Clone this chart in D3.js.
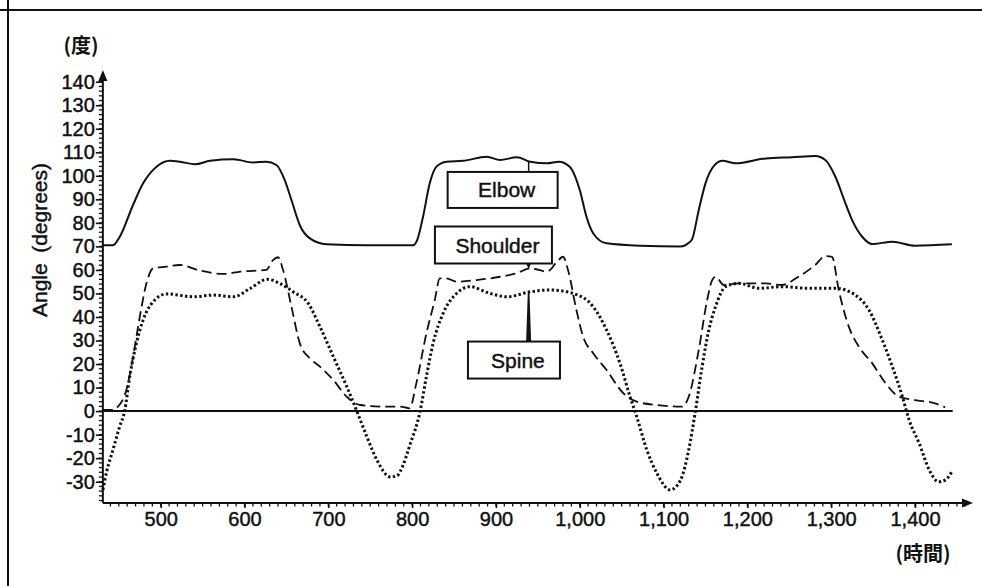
<!DOCTYPE html>
<html>
<head>
<meta charset="utf-8">
<script src="https://cdn.jsdelivr.net/npm/d3@7"></script>
<style>
  body { margin: 0; background: #fff; }
  svg { display: block; }
  text { font-family: "Liberation Sans", Arial, sans-serif; fill: #111; stroke: #111; stroke-width: 0.45px; }
</style>
</head>
<body>
<div id="chart"></div>
<script>
// Elbow (solid)
var elbowTime = [431, 443, 451, 467, 479, 495, 511, 523, 541, 559, 587, 610, 626, 638, 648, 656, 666, 678, 698, 746, 786, 801, 806, 813, 821, 829, 841, 861, 889, 905, 925, 941, 961, 975, 988, 1000, 1008, 1016, 1032, 1072, 1120, 1128, 1134, 1142, 1150, 1158, 1170, 1186, 1222, 1253, 1281, 1293, 1305, 1317, 1325, 1337, 1349, 1373, 1400, 1444]
var elbowAngle = [70.5, 70.5, 74, 87.6, 96.8, 103.9, 106.4, 106, 104.9, 106.4, 107, 105.7, 106, 104.6, 98.2, 89.7, 79, 73.4, 70.9, 70.5, 70.5, 70.5, 72.7, 82.6, 96.8, 103.9, 106, 106.4, 108.1, 106.7, 107.9, 106, 105.3, 106, 103.9, 94, 82.6, 75.6, 71.3, 70.3, 70, 71, 73, 85.5, 96.8, 103.2, 106.4, 105.3, 107.4, 107.9, 108.4, 106.7, 99.6, 88.3, 81.2, 74.1, 71, 72, 70.3, 70.9]

// Shoulder (dashed)
var shoulderTime = [431, 443, 449, 459, 467, 475, 483, 491, 507, 523, 547, 575, 595, 626, 634, 640, 646, 656, 666, 678, 690, 706, 722, 738, 766, 786, 797, 805, 817, 827, 833, 841, 853, 877, 905, 925, 941, 961, 973, 980, 986, 996, 1004, 1016, 1032, 1052, 1068, 1092, 1122, 1130, 1142, 1152, 1158, 1162, 1172, 1190, 1222, 1241, 1261, 1281, 1293, 1301, 1309, 1321, 1333, 1349, 1365, 1381, 1400, 1424, 1436]
var shoulderAngle = [0.5, 0.5, 1.9, 9, 23, 40, 54.3, 60.7, 61.4, 62.1, 59.7, 58.3, 59.3, 60, 64.2, 65.4, 60, 44.4, 28.8, 22.4, 18.9, 13.2, 6.1, 2.6, 1.9, 1.9, 1.2, 11.8, 33, 47.2, 56.4, 56.4, 55, 55.7, 57.1, 58.6, 60.7, 59.3, 63.5, 65.6, 60, 43, 31.6, 24.6, 17.5, 7.6, 4, 2.6, 1.9, 6.1, 26, 47.2, 55.7, 57.1, 53.6, 54.3, 54.3, 53.6, 57.1, 62.1, 65.9, 65.6, 51.5, 35.9, 27.4, 20.3, 11.8, 6.1, 4.7, 3.3, 1.6]

// Spine (dotted)
var spineTime = [431, 436, 443, 451, 457, 463, 471, 479, 491, 507, 539, 563, 587, 607, 627, 642, 658, 676, 690, 706, 722, 734, 746, 758, 774, 782, 786, 798, 809, 817, 825, 837, 853, 869, 893, 913, 941, 965, 992, 1016, 1032, 1048, 1060, 1068, 1080, 1092, 1108, 1120, 1130, 1138, 1146, 1154, 1162, 1174, 1190, 1214, 1241, 1273, 1305, 1329, 1345, 1361, 1373, 1385, 1393, 1405, 1417, 1428, 1436, 1444]
var spineAngle = [-33.5, -25, -16.5, -6.6, 0, 14.6, 28.8, 38.7, 46.5, 49.8, 48.6, 49.3, 48.6, 52.2, 56, 54.3, 50.7, 45.8, 35.9, 23.1, 10.4, 0, -10.9, -20.8, -28, -27.5, -25.5, -13.7, -0.9, 14.6, 28.8, 41.6, 50, 52.9, 50, 48.6, 50.7, 51.5, 50, 44.4, 34.5, 20.3, 6.1, -2.4, -16.5, -26.4, -33.5, -29.5, -16.5, 0, 18.9, 34.5, 44.4, 52.9, 54.3, 52.2, 52.9, 52.2, 52.2, 49.3, 43, 30.2, 18.9, 6.1, -3.8, -13.7, -25, -30, -29.3, -25.7]

var xTicks = [500, 600, 700, 800, 900, 1000, 1100, 1200, 1300, 1400]
var yTicks = [-30, -20, -10, 0, 10, 20, 30, 40, 50, 60, 70, 80, 90, 100, 110, 120, 130, 140]

// label boxes, placed in data units
var labels = [
  { name: 'Elbow', t: 908, a: 94, w: 110, h: 36, lt: 939, la: 106.2, dir: 'up' },
  { name: 'Shoulder', t: 897, a: 70.6, w: 117, h: 37, lt: 939, la: 61, dir: 'down' },
  { name: 'Spine', t: 921.5, a: 21.7, w: 92, h: 37, lt: 939, la: 50.8, dir: 'wedge' }
]

var W = 982, H = 586

var svg = d3.select('#chart').append('svg')
  .attr('width', W)
  .attr('height', H)

var x = d3.scaleLinear().domain([500, 1400]).range([160.7, 915])
var y = d3.scaleLinear().domain([-30, 140]).range([481.7, 81.7])

var x0 = x(431), xEnd = 973
var yBottom = 503, yTop = 70

// frame (top and left edges of the scanned page)
svg.append('line').attr('x1', 0).attr('x2', W).attr('y1', 10).attr('y2', 10)
  .attr('stroke', '#111').attr('stroke-width', 2)
svg.append('line').attr('x1', 8).attr('x2', 8).attr('y1', 0).attr('y2', H)
  .attr('stroke', '#111').attr('stroke-width', 2)

// y minor ticks every 2
var yMinor = d3.range(-38, 141, 2)
svg.append('g').selectAll('line').data(yMinor).enter().append('line')
  .attr('x1', x0 - 4).attr('x2', x0)
  .attr('y1', d => y(d)).attr('y2', d => y(d))
  .attr('stroke', '#111').attr('stroke-width', 1.3)

// x minor ticks every 10
var xMinor = d3.range(440, 1461, 10)
svg.append('g').selectAll('line').data(xMinor).enter().append('line')
  .attr('x1', d => x(d)).attr('x2', d => x(d))
  .attr('y1', yBottom).attr('y2', yBottom + 3.5)
  .attr('stroke', '#111').attr('stroke-width', 1.3)

var yAxis = d3.axisLeft(y).tickValues(yTicks).tickSize(7).tickPadding(1).tickFormat(d => String(d))
var gy = svg.append('g').attr('transform', 'translate(' + x0 + ',0)').call(yAxis)
gy.select('.domain').remove()
gy.selectAll('.tick line').attr('stroke', '#111').attr('stroke-width', 1.6)
gy.selectAll('.tick text').style('font-size', '20px').attr('fill', '#111')

var xAxis = d3.axisBottom(x).tickValues(xTicks).tickSize(5).tickPadding(4).tickFormat(d3.format(','))
var gx = svg.append('g').attr('transform', 'translate(0,' + yBottom + ')').call(xAxis)
gx.select('.domain').remove()
gx.selectAll('.tick line').attr('stroke', '#111').attr('stroke-width', 1.6)
gx.selectAll('.tick text').style('font-size', '20px').attr('fill', '#111')

// axis lines with arrows
svg.append('line').attr('x1', x0).attr('x2', x0).attr('y1', yBottom).attr('y2', yTop + 8)
  .attr('stroke', '#111').attr('stroke-width', 2)
svg.append('line').attr('x1', x0).attr('x2', xEnd - 8).attr('y1', yBottom).attr('y2', yBottom)
  .attr('stroke', '#111').attr('stroke-width', 2)
svg.append('path')
  .attr('d', 'M' + x0 + ',' + yTop + 'L' + (x0 - 4.5) + ',' + (yTop + 11) + 'L' + (x0 + 4.5) + ',' + (yTop + 11) + 'Z')
  .attr('fill', '#111')
svg.append('path')
  .attr('d', 'M' + xEnd + ',' + yBottom + 'L' + (xEnd - 11) + ',' + (yBottom - 4.5) + 'L' + (xEnd - 11) + ',' + (yBottom + 4.5) + 'Z')
  .attr('fill', '#111')

// zero line
svg.append('line').attr('x1', x0).attr('x2', x(1445)).attr('y1', y(0)).attr('y2', y(0))
  .attr('stroke', '#111').attr('stroke-width', 2)

// unit labels and axis title
svg.append('text').attr('x', 81).attr('y', 53).attr('text-anchor', 'middle')
  .style('font-size', '20px').style('font-weight', 'bold').style('stroke-width', '0')
  .style('font-family', '"Noto Sans CJK JP", sans-serif').text('(度)')
svg.append('text').attr('x', 923).attr('y', 561).attr('text-anchor', 'middle')
  .style('font-size', '20px').style('font-weight', 'bold').style('stroke-width', '0')
  .style('font-family', '"Noto Sans CJK JP", sans-serif').text('(時間)')
svg.append('text')
  .attr('transform', 'translate(47,240) rotate(-90)')
  .attr('text-anchor', 'middle')
  .style('font-size', '21px')
  .text('Angle\u2002(degrees)')

// curves
var line = d3.line()
  .x(d => x(d[0]))
  .y(d => y(d[1]))
  .curve(d3.curveMonotoneX)

var series = [
  { t: elbowTime, a: elbowAngle, dash: null, w: 2 },
  { t: shoulderTime, a: shoulderAngle, dash: '10,5', w: 1.8 },
  { t: spineTime, a: spineAngle, dash: '2.4,2.4', w: 3 }
]

series.forEach(s => {
  svg.append('path')
    .datum(d3.zip(s.t, s.a))
    .attr('d', line)
    .attr('fill', 'none')
    .attr('stroke', '#111')
    .attr('stroke-width', s.w)
    .attr('stroke-dasharray', s.dash)
})

// label boxes with leaders
labels.forEach(l => {
  var cx = x(l.t), cy = y(l.a)
  var lx = x(l.lt), ly = y(l.la)
  if (l.dir == 'up') {
    svg.append('line').attr('x1', lx).attr('x2', lx).attr('y1', cy - l.h / 2).attr('y2', ly)
      .attr('stroke', '#111').attr('stroke-width', 1.5)
  } else if (l.dir == 'down') {
    svg.append('line').attr('x1', lx).attr('x2', lx).attr('y1', cy + l.h / 2).attr('y2', ly)
      .attr('stroke', '#111').attr('stroke-width', 1.5)
    svg.append('path')
      .attr('d', 'M' + lx + ',' + (ly + 1) + 'L' + (lx - 2.5) + ',' + (ly - 4) + 'L' + (lx + 2.5) + ',' + (ly - 4) + 'Z')
      .attr('fill', '#111')
  } else {
    var by = cy - l.h / 2
    svg.append('path')
      .attr('d', 'M' + (lx - 0.8) + ',' + ly + 'L' + (lx + 0.8) + ',' + ly + 'L' + (lx + 2.5) + ',' + by + 'L' + (lx - 2.5) + ',' + by + 'Z')
      .attr('fill', '#111')
  }
  svg.append('rect')
    .attr('x', cx - l.w / 2).attr('y', cy - l.h / 2)
    .attr('width', l.w).attr('height', l.h)
    .attr('fill', '#fff').attr('stroke', '#111').attr('stroke-width', 2)
  svg.append('text')
    .attr('x', cx + 4).attr('y', cy).attr('dy', '0.36em')
    .attr('text-anchor', 'middle')
    .style('font-size', '21px')
    .text(l.name)
})
</script>
</body>
</html>
